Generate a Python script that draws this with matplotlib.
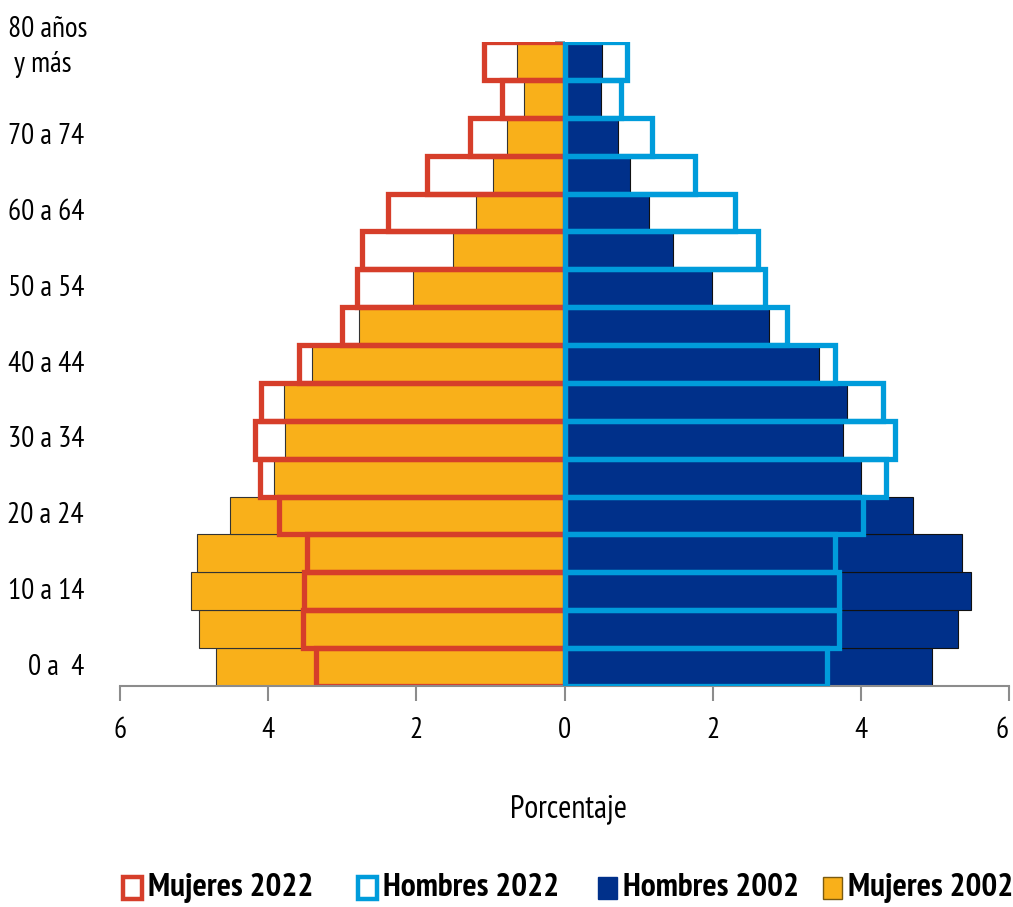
import matplotlib
matplotlib.use("Agg")
import matplotlib.pyplot as plt
from matplotlib.patches import Rectangle
import numpy as np

age_groups = ["0 a 4", "5 a 9", "10 a 14", "15 a 19", "20 a 24", "25 a 29", "30 a 34",
              "35 a 39", "40 a 44", "45 a 49", "50 a 54", "55 a 59", "60 a 64",
              "65 a 69", "70 a 74", "75 a 79", "80 años\ny más"]
shown_labels = {0: "0 a  4", 2: "10 a 14", 4: "20 a 24", 6: "30 a 34", 8: "40 a 44",
                10: "50 a 54", 12: "60 a 64", 14: "70 a 74"}
top_label = "80 años\n y más"

mujeres_2002 = [4.70, 4.93, 5.04, 4.96, 4.51, 3.92, 3.77, 3.78, 3.41, 2.77, 2.04, 1.51, 1.19, 0.96, 0.77, 0.54, 0.64]
mujeres_2022 = [3.36, 3.53, 3.51, 3.47, 3.86, 4.11, 4.18, 4.09, 3.59, 3.00, 2.80, 2.73, 2.38, 1.85, 1.27, 0.85, 1.08]
hombres_2002 = [4.96, 5.31, 5.49, 5.36, 4.70, 4.00, 3.76, 3.81, 3.43, 2.76, 1.99, 1.47, 1.14, 0.89, 0.72, 0.49, 0.51]
hombres_2022 = [3.54, 3.70, 3.70, 3.65, 4.03, 4.34, 4.46, 4.30, 3.65, 3.00, 2.70, 2.61, 2.30, 1.76, 1.18, 0.76, 0.84]

xticks = [-6, -4, -2, 0, 2, 4, 6]

C_ORANGE = "#F9B01A"
C_NAVY = "#00308A"
C_RED = "#D63E2A"
C_BLUE = "#009CDB"
C_GRAY = "#8C8C8C"

plt.rcParams['font.family'] = ['PT Sans Narrow', 'Fira Sans Condensed', 'Roboto Condensed',
                               'Archivo Narrow', 'Barlow Semi Condensed', 'DejaVu Sans']

W, H = 1013, 907
AX_L, AX_R, AX_T, AX_B = 120, 1009, 42, 686
fig = plt.figure(figsize=(W / 100, H / 100), dpi=100)
ax = fig.add_axes([AX_L / W, 1 - AX_B / H, (AX_R - AX_L) / W, (AX_B - AX_T) / H])

y = np.arange(len(age_groups))
mw02 = -np.array(mujeres_2002)
mw22 = -np.array(mujeres_2022)

ax.barh(y, mw02, height=1.0, color=C_ORANGE, edgecolor="#333333", linewidth=0.8, zorder=1)
ax.barh(y, hombres_2002, height=1.0, color=C_NAVY, edgecolor="#111111", linewidth=0.8, zorder=1)
ax.barh(y, mw22, height=1.0, facecolor="none", edgecolor=C_RED, linewidth=3.8, zorder=2)
ax.barh(y, hombres_2022, height=1.0, facecolor="none", edgecolor=C_BLUE, linewidth=3.8, zorder=3)

ax.set_xlim(-6, 6)
ax.set_ylim(-0.5, len(age_groups) - 0.5)

for s in ["top", "right"]:
    ax.spines[s].set_visible(False)
ax.spines["left"].set_position(("data", 0))
ax.spines["left"].set_visible(False)
ax.spines["bottom"].set_color(C_GRAY)
ax.spines["bottom"].set_linewidth(1.5)

ax.set_xticks(xticks)
ax.set_xticklabels([str(abs(v)) for v in xticks], fontsize=21)
ax.tick_params(axis="x", length=11, width=1.5, color=C_GRAY, pad=11)
ax.get_xticklabels()[-1].set_horizontalalignment("right")
ax.get_xticklabels()[-1].set_x(6)

ax.set_yticks(np.arange(len(age_groups) + 1) - 0.5)
ax.set_yticklabels([])
ax.tick_params(axis="y", length=7, width=1.2, color=C_GRAY, direction="out", zorder=4)

trans = ax.get_yaxis_transform()
for i, lab in shown_labels.items():
    ax.text(-36 / (AX_R - AX_L), y[i], lab, transform=trans,
            ha="right", va="center", fontsize=21)
fig.text(8 / W, 1 - 47 / H, top_label, ha="left", va="center", fontsize=21,
         linespacing=1.35, multialignment="left")

fig.text(568 / W, 1 - 810 / H, "Porcentaje", ha="center", va="center", fontsize=23)

legend_items = [
    (120, "Mujeres 2022", "white", C_RED),
    (355, "Hombres 2022", "white", C_BLUE),
    (595, "Hombres 2002", C_NAVY, C_NAVY),
    (820, "Mujeres 2002", C_ORANGE, "#7a5a10"),
]
ly = 888
for x0, lab, fc, ec in legend_items:
    lw = 3.2 if fc == "white" else 1.0
    fig.add_artist(Rectangle((x0 / W + 0.003, 1 - (ly + 11) / H), 19 / W, 22 / H,
                             transform=fig.transFigure, facecolor=fc, edgecolor=ec, linewidth=lw))
    fig.text((x0 + 28) / W, 1 - ly / H, lab, ha="left", va="center",
             fontsize=24, fontweight="bold")

fig.savefig("out.png", dpi=100)
